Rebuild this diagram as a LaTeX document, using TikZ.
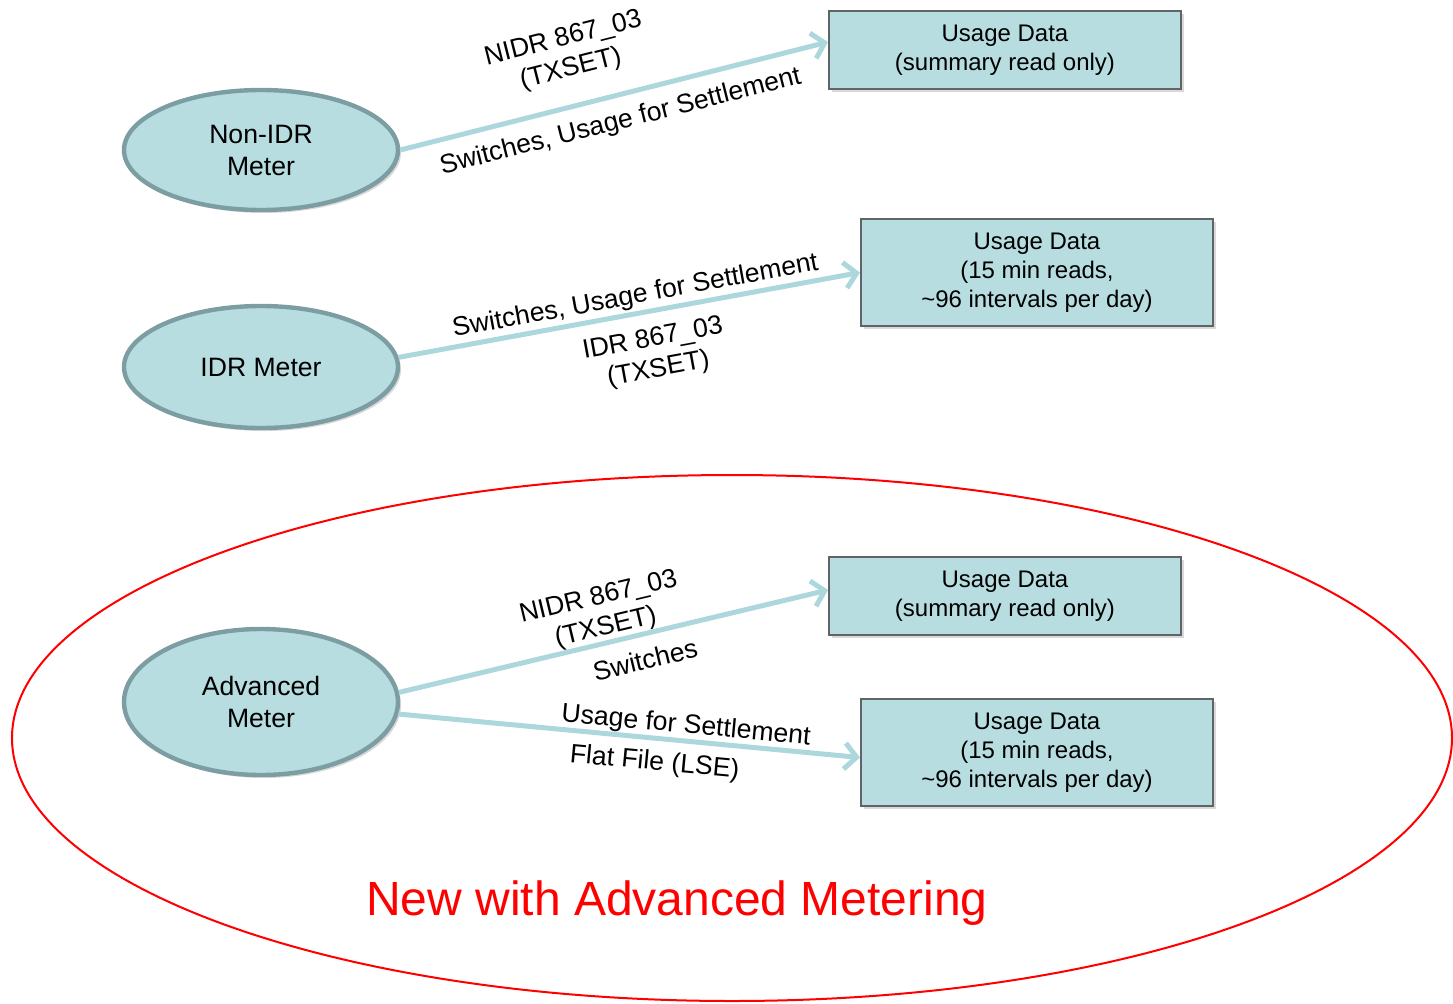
\documentclass[tikz,border=0pt]{standalone}
\usepackage{fontspec}
\setmainfont{Liberation Sans}
\usepackage{tikz}
\usetikzlibrary{shapes.geometric, arrows.meta, shadows}
\definecolor{meterfill}{RGB}{183,221,224}
\definecolor{meterline}{RGB}{124,158,162}
\definecolor{boxline}{RGB}{96,100,102}
\definecolor{flowline}{RGB}{172,215,220}

\begin{document}
\begin{tikzpicture}[x=0.5pt, y=-0.5pt,
  meter/.style={ellipse, draw=meterline, line width=2.2pt, fill=meterfill, minimum width=137pt, inner sep=0pt, align=center, font=\fontsize{13.3}{16}\selectfont, drop shadow={shadow xshift=1.5pt, shadow yshift=-1.5pt, opacity=0.3}},
  usage/.style={rectangle, draw=boxline, line width=1pt, fill=meterfill, minimum width=176pt, align=center, font=\fontsize{12}{14.5}\selectfont, drop shadow={shadow xshift=1.5pt, shadow yshift=-1.5pt, opacity=0.3}},
  flow/.style={draw=flowline, line width=2.5pt, -{Straight Barb[length=6pt, width=13pt]}},
  lbl/.style={sloped, align=center, inner sep=1pt, font=\fontsize{13.3}{15.5}\selectfont}]
\useasboundingbox (0,0) rectangle (1453,1003);

\draw[red, line width=1pt] (732,738) ellipse [x radius=360pt, y radius=131.5pt];
\node[text=red, font=\fontsize{24}{28}\selectfont] (note) at (677,903) {New with Advanced Metering};

\node[meter, minimum height=60pt] (nidr) at (261,150) {Non-IDR\\Meter};
\node[meter, minimum height=61pt] (idr) at (261,367) {IDR Meter};
\node[meter, minimum height=73pt] (adv) at (261,702) {Advanced\\Meter};

\node[usage, minimum height=39pt] (sum1) at (1005,50) {Usage Data\\(summary read only)};
\node[usage, minimum height=53.5pt] (int1) at (1037,272.5) {Usage Data\\(15 min reads,\\\textasciitilde96 intervals per day)};
\node[usage, minimum height=39pt] (sum2) at (1005,596) {Usage Data\\(summary read only)};
\node[usage, minimum height=53.5pt] (int2) at (1037,752.5) {Usage Data\\(15 min reads,\\\textasciitilde96 intervals per day)};

\draw[flow] (nidr.east) -- node[lbl, above=10pt, pos=0.42] {NIDR 867\_03\\(TXSET)} node[lbl, below=5pt, pos=0.5] {Switches, Usage for Settlement} ([yshift=4pt]sum1.west);
\draw[flow] (idr.4) -- node[lbl, above=0pt, pos=0.52] {Switches, Usage for Settlement} node[lbl, below=6pt, pos=0.54] {IDR 867\_03\\(TXSET)} (int1.west);
\draw[flow] (adv.4) -- node[lbl, above=-1pt, pos=0.49] {NIDR 867\_03\\(TXSET)} node[lbl, below=5.5pt, pos=0.56] {Switches} ([yshift=3pt]sum2.west);
\draw[flow] (adv.-5) -- node[lbl, above=-1pt, pos=0.62] {Usage for Settlement} node[lbl, below=4pt, pos=0.56] {Flat File (LSE)} ([yshift=-2.5pt]int2.west);
\end{tikzpicture}
\end{document}
